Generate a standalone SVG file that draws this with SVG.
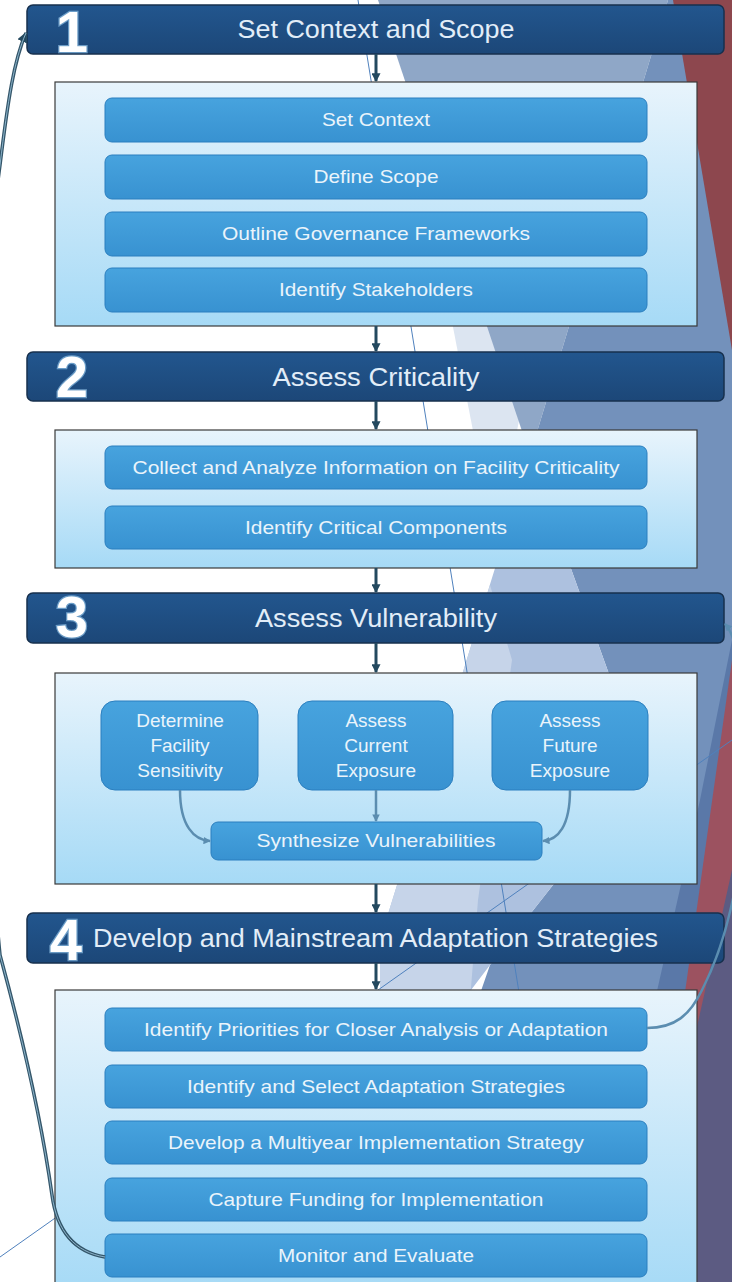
<svg xmlns="http://www.w3.org/2000/svg" width="732" height="1282" viewBox="0 0 732 1282">
<defs>
<style>
.hdr{fill:url(#gh);stroke:#17304d;stroke-width:1.5}
.pnl{fill:url(#gp);stroke:#3a3a3a;stroke-width:1.2}
.bar{fill:url(#gb);stroke:#2b7fbf;stroke-width:1}
.ht{font-family:"Liberation Sans",Arial,sans-serif;font-size:25px;fill:#e2edf8;text-anchor:middle}
.num{font-family:"Liberation Sans",Arial,sans-serif;font-size:58px;font-weight:bold;fill:#ffffff;stroke:#9fd0f4;stroke-width:2.5;stroke-opacity:0.6;paint-order:stroke;text-anchor:middle}
.bt{font-family:"Liberation Sans",Arial,sans-serif;font-size:19px;fill:#eaf4fb;text-anchor:middle}
.vc{stroke:#24495f;stroke-width:3;fill:none}
.lc{stroke:#5b8db0;stroke-width:2.5;fill:none}
.loop{stroke:#34566a;stroke-width:3.5;fill:none}
.loopi{stroke:#8cb4cb;stroke-width:1;fill:none}
</style>
<linearGradient id="gh" x1="0" y1="0" x2="0" y2="1"><stop offset="0" stop-color="#22568e"/><stop offset="1" stop-color="#1c4778"/></linearGradient>
<linearGradient id="gp" x1="0" y1="0" x2="0" y2="1"><stop offset="0" stop-color="#e8f4fc"/><stop offset="1" stop-color="#a6daf6"/></linearGradient>
<linearGradient id="gb" x1="0" y1="0" x2="0" y2="1"><stop offset="0" stop-color="#47a3de"/><stop offset="1" stop-color="#3892d1"/></linearGradient>
<marker id="ah" viewBox="0 0 8 8" refX="7" refY="4" markerWidth="3" markerHeight="3" orient="auto"><path d="M0,0 L8,4 L0,8 z" fill="#24495f"/></marker>
<marker id="al" viewBox="0 0 8 8" refX="7" refY="4" markerWidth="3" markerHeight="3" orient="auto"><path d="M0,0 L8,4 L0,8 z" fill="#5b8db0"/></marker>
</defs>

<g id="background">
<rect x="0" y="0" width="732" height="1282" fill="#ffffff"/>
<polygon points="390,0 600,0 495,545" fill="#dce5f1"/>
<polygon points="378,0 668,0 530,455" fill="#8fa7c7"/>
<polygon points="668,0 732,0 732,1282 380,1282 490,965 553,885 640,760 530,455" fill="#7391bb"/>
<polygon points="530,455 640,760 553,885 490,965 380,1110 380,940" fill="#adc1df"/>
<polygon points="490,585 512,660 478,900 470,1000 380,1000 380,940" fill="#c6d4e9"/>
<polygon points="732,640 732,1000 655,1000 700,800" fill="#5a78a8"/>
<polygon points="673,0 732,0 732,350" fill="#8d474e"/>
<polygon points="732,660 732,1282 644,1282" fill="#9c5260"/>
<polygon points="732,870 732,1282 640,1282" fill="#5c5b82"/>
<line x1="358" y1="0" x2="566" y2="1282" stroke="#4f81bd" stroke-width="1"/>
<line x1="0" y1="1257" x2="732" y2="740" stroke="#4f81bd" stroke-width="1"/>
</g>

<g id="step1">
<rect class="hdr" x="27" y="5" width="697" height="49" rx="6"/>
<text class="num" x="72" y="52">1</text>
<text class="ht" x="376" y="38" textLength="277" lengthAdjust="spacingAndGlyphs">Set Context and Scope</text>
</g>
<g id="box1">
<rect class="pnl" x="55" y="82" width="642" height="244"/>
<g id="b1-1"><rect class="bar" x="105" y="98" width="542" height="44" rx="7"/><text class="bt" x="376" y="126" textLength="108" lengthAdjust="spacingAndGlyphs">Set Context</text></g>
<g id="b1-2"><rect class="bar" x="105" y="155" width="542" height="44" rx="7"/><text class="bt" x="376" y="183" textLength="125" lengthAdjust="spacingAndGlyphs">Define Scope</text></g>
<g id="b1-3"><rect class="bar" x="105" y="212" width="542" height="44" rx="7"/><text class="bt" x="376" y="240" textLength="308" lengthAdjust="spacingAndGlyphs">Outline Governance Frameworks</text></g>
<g id="b1-4"><rect class="bar" x="105" y="268" width="542" height="44" rx="7"/><text class="bt" x="376" y="296" textLength="194" lengthAdjust="spacingAndGlyphs">Identify Stakeholders</text></g>
</g>

<g id="step2">
<rect class="hdr" x="27" y="352" width="697" height="49" rx="6"/>
<text class="num" x="72" y="397">2</text>
<text class="ht" x="376" y="386" textLength="207" lengthAdjust="spacingAndGlyphs">Assess Criticality</text>
</g>
<g id="box2">
<rect class="pnl" x="55" y="430" width="642" height="138"/>
<g id="b2-1"><rect class="bar" x="105" y="446" width="542" height="43" rx="7"/><text class="bt" x="376" y="474" textLength="487" lengthAdjust="spacingAndGlyphs">Collect and Analyze Information on Facility Criticality</text></g>
<g id="b2-2"><rect class="bar" x="105" y="506" width="542" height="43" rx="7"/><text class="bt" x="376" y="534" textLength="262" lengthAdjust="spacingAndGlyphs">Identify Critical Components</text></g>
</g>

<g id="step3">
<rect class="hdr" x="27" y="593" width="697" height="50" rx="6"/>
<text class="num" x="72" y="637">3</text>
<text class="ht" x="376" y="627" textLength="242" lengthAdjust="spacingAndGlyphs">Assess Vulnerability</text>
</g>
<g id="box3">
<rect class="pnl" x="55" y="673" width="642" height="211"/>
<g id="b3-1"><rect class="bar" x="101" y="701" width="157" height="89" rx="14"/>
<text class="bt" x="180" y="727">Determine</text><text class="bt" x="180" y="752">Facility</text><text class="bt" x="180" y="777">Sensitivity</text></g>
<g id="b3-2"><rect class="bar" x="298" y="701" width="155" height="89" rx="14"/>
<text class="bt" x="376" y="727">Assess</text><text class="bt" x="376" y="752">Current</text><text class="bt" x="376" y="777">Exposure</text></g>
<g id="b3-3"><rect class="bar" x="492" y="701" width="156" height="89" rx="14"/>
<text class="bt" x="570" y="727">Assess</text><text class="bt" x="570" y="752">Future</text><text class="bt" x="570" y="777">Exposure</text></g>
<g id="b3-4"><rect class="bar" x="211" y="822" width="331" height="38" rx="7"/><text class="bt" x="376" y="847" textLength="239" lengthAdjust="spacingAndGlyphs">Synthesize Vulnerabilities</text></g>
</g>

<g id="step4">
<rect class="hdr" x="27" y="913" width="697" height="50" rx="6"/>
<text class="num" x="66" y="960">4</text>
<text class="ht" x="93" y="947" style="text-anchor:start" textLength="565" lengthAdjust="spacingAndGlyphs">Develop and Mainstream Adaptation Strategies</text>
</g>
<g id="box4">
<rect class="pnl" x="55" y="990" width="642" height="300"/>
<g id="b4-1"><rect class="bar" x="105" y="1008" width="542" height="43" rx="7"/><text class="bt" x="376" y="1036" textLength="464" lengthAdjust="spacingAndGlyphs">Identify Priorities for Closer Analysis or Adaptation</text></g>
<g id="b4-2"><rect class="bar" x="105" y="1065" width="542" height="43" rx="7"/><text class="bt" x="376" y="1093" textLength="378" lengthAdjust="spacingAndGlyphs">Identify and Select Adaptation Strategies</text></g>
<g id="b4-3"><rect class="bar" x="105" y="1121" width="542" height="43" rx="7"/><text class="bt" x="376" y="1149" textLength="416" lengthAdjust="spacingAndGlyphs">Develop a Multiyear Implementation Strategy</text></g>
<g id="b4-4"><rect class="bar" x="105" y="1178" width="542" height="43" rx="7"/><text class="bt" x="376" y="1206" textLength="335" lengthAdjust="spacingAndGlyphs">Capture Funding for Implementation</text></g>
<g id="b4-5"><rect class="bar" x="105" y="1234" width="542" height="43" rx="7"/><text class="bt" x="376" y="1262" textLength="196" lengthAdjust="spacingAndGlyphs">Monitor and Evaluate</text></g>
</g>

<g id="connectors">
<line class="vc" x1="376" y1="54" x2="376" y2="81" marker-end="url(#ah)"/>
<line class="vc" x1="376" y1="326" x2="376" y2="351" marker-end="url(#ah)"/>
<line class="vc" x1="376" y1="401" x2="376" y2="429" marker-end="url(#ah)"/>
<line class="vc" x1="376" y1="568" x2="376" y2="592" marker-end="url(#ah)"/>
<line class="vc" x1="376" y1="643" x2="376" y2="672" marker-end="url(#ah)"/>
<line class="vc" x1="376" y1="884" x2="376" y2="912" marker-end="url(#ah)"/>
<line class="vc" x1="376" y1="963" x2="376" y2="989" marker-end="url(#ah)"/>
<path class="lc" d="M180,790 C180,826 194,840 210,841" marker-end="url(#al)"/>
<line class="lc" x1="376" y1="790" x2="376" y2="821" marker-end="url(#al)"/>
<path class="lc" d="M570,790 C570,826 558,840 543,841" marker-end="url(#al)"/>
<path class="loop" d="M105,1257 C75,1252 57,1232 52,1195 C40,1110 15,1010 0,955 C-25,700 -25,350 0,165 C8,100 14,60 26,33" marker-end="url(#ah)"/>
<path class="loopi" d="M105,1257 C75,1252 57,1232 52,1195 C40,1110 15,1010 0,955 C-25,700 -25,350 0,165 C8,100 14,60 26,33"/>
<path class="lc" d="M647,1028 C675,1028 690,1015 702,990 C720,955 740,900 745,800 C748,700 740,640 725,624" marker-end="url(#al)"/>
</g>
</svg>
